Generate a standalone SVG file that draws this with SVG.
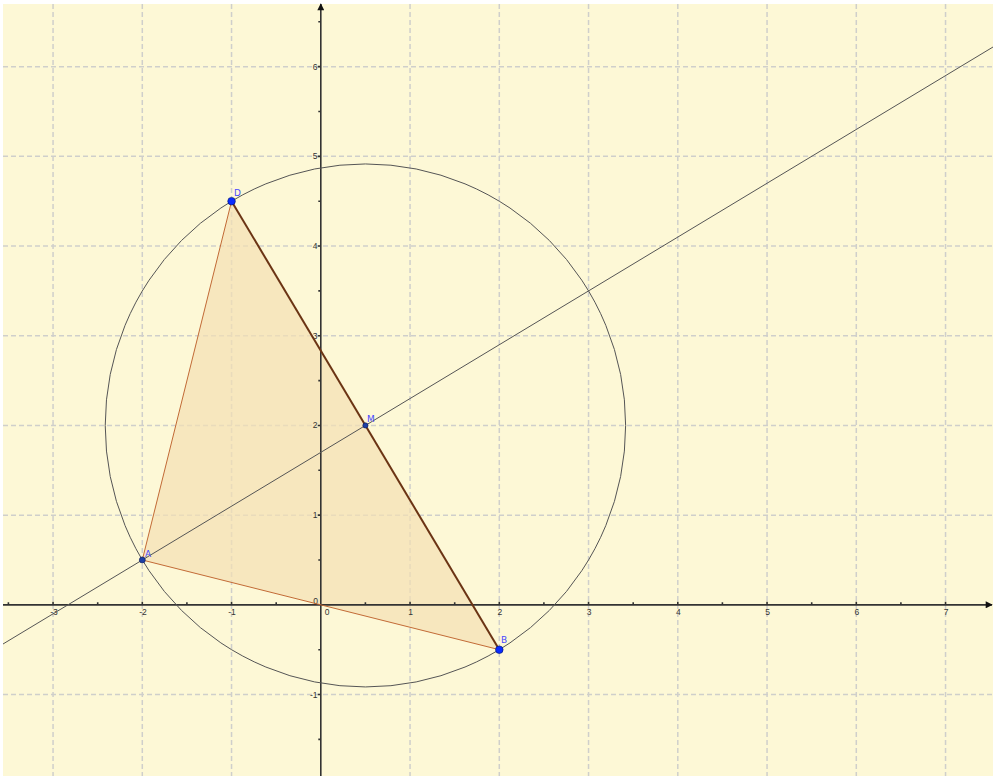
<svg xmlns="http://www.w3.org/2000/svg" width="993" height="776" viewBox="0 0 993 776">
<defs>
<style>
.grid{stroke:#cfcfcb;stroke-width:1.5;stroke-dasharray:5,3;fill:none}
.axis{stroke:#333333;stroke-width:1.6;fill:none}
.tick{stroke:#333333;stroke-width:1.6}
.lbl{font-family:"Liberation Sans",Arial,sans-serif;font-size:8.5px;fill:#333333}
.ptl{font-family:"DejaVu Sans","Liberation Sans",sans-serif;font-size:9px;fill:#4848ff}
.conic{stroke:#555555;stroke-width:1;fill:none}
.side{stroke:#c26a36;stroke-width:1;fill:none}
</style>
<marker id="arr" viewBox="0 0 10 10" refX="9" refY="5" markerWidth="10" markerHeight="7" markerUnits="userSpaceOnUse" orient="auto">
<path d="M0,0 L10,5 L0,10 Z" fill="#111111"/>
</marker>
</defs>
<rect x="0" y="0" width="993" height="776" fill="#ffffff"/>
<rect x="3" y="4" width="990" height="772" fill="#fdf8d6"/>
<g id="grid">
<line class="grid" x1="53.05" y1="4" x2="53.05" y2="776"/>
<line class="grid" x1="142.3" y1="4" x2="142.3" y2="776"/>
<line class="grid" x1="231.55" y1="4" x2="231.55" y2="776"/>
<line class="grid" x1="410.05" y1="4" x2="410.05" y2="776"/>
<line class="grid" x1="499.3" y1="4" x2="499.3" y2="776"/>
<line class="grid" x1="588.55" y1="4" x2="588.55" y2="776"/>
<line class="grid" x1="677.8" y1="4" x2="677.8" y2="776"/>
<line class="grid" x1="767.05" y1="4" x2="767.05" y2="776"/>
<line class="grid" x1="856.3" y1="4" x2="856.3" y2="776"/>
<line class="grid" x1="945.55" y1="4" x2="945.55" y2="776"/>
<line class="grid" x1="3" y1="694.55" x2="993" y2="694.55"/>
<line class="grid" x1="3" y1="515.15" x2="993" y2="515.15"/>
<line class="grid" x1="3" y1="425.45" x2="993" y2="425.45"/>
<line class="grid" x1="3" y1="335.75" x2="993" y2="335.75"/>
<line class="grid" x1="3" y1="246.05" x2="993" y2="246.05"/>
<line class="grid" x1="3" y1="156.35" x2="993" y2="156.35"/>
<line class="grid" x1="3" y1="66.65" x2="993" y2="66.65"/>
</g>
<g id="polygon">
<polygon points="142.3,560 231.55,201.2 499.3,649.7" fill="#f3dfb4" fill-opacity="0.7" stroke="none"/>
</g>
<g id="axes">
<line class="axis" x1="3" y1="604.85" x2="992" y2="604.85" marker-end="url(#arr)"/>
<line class="axis" x1="320.8" y1="776" x2="320.8" y2="4" marker-end="url(#arr)"/>
<path class="tick" d="M53.05,604.85v-3 M142.3,604.85v-3 M231.55,604.85v-3 M410.05,604.85v-3 M499.3,604.85v-3 M588.55,604.85v-3 M677.8,604.85v-3 M767.05,604.85v-3 M856.3,604.85v-3 M945.55,604.85v-3 M8.4,604.85v-2.5 M97.7,604.85v-2.5 M186.9,604.85v-2.5 M276.2,604.85v-2.5 M365.4,604.85v-2.5 M454.7,604.85v-2.5 M543.9,604.85v-2.5 M633.2,604.85v-2.5 M722.4,604.85v-2.5 M811.7,604.85v-2.5 M900.9,604.85v-2.5"/>
<path class="tick" d="M320.8,694.55h-3 M320.8,515.15h-3 M320.8,425.45h-3 M320.8,335.75h-3 M320.8,246.05h-3 M320.8,156.35h-3 M320.8,66.65h-3 M320.8,739.4h-2.5 M320.8,649.7h-2.5 M320.8,560h-2.5 M320.8,470.3h-2.5 M320.8,380.6h-2.5 M320.8,290.9h-2.5 M320.8,201.2h-2.5 M320.8,111.5h-2.5 M320.8,21.8h-2.5"/>
<g class="lbl" text-anchor="middle">
<text x="54" y="615">-3</text>
<text x="143" y="615">-2</text>
<text x="232" y="615">-1</text>
<text x="327" y="615">0</text>
<text x="410.5" y="615">1</text>
<text x="499.8" y="615">2</text>
<text x="589" y="615">3</text>
<text x="678.3" y="615">4</text>
<text x="767.5" y="615">5</text>
<text x="856.8" y="615">6</text>
<text x="946" y="615">7</text>
</g>
<g class="lbl" text-anchor="end">
<text x="317.5" y="697.5">-1</text>
<text x="318" y="604">0</text>
<text x="317.5" y="518">1</text>
<text x="317.5" y="428.3">2</text>
<text x="317.5" y="338.6">3</text>
<text x="317.5" y="248.9">4</text>
<text x="317.5" y="159.2">5</text>
<text x="317.5" y="69.5">6</text>
</g>
</g>
<g id="connectors">
<ellipse id="circle" class="conic" cx="365.43" cy="425.45" rx="260.2" ry="261.5"/>
<line id="lineAM" class="conic" x1="3" y1="644" x2="993" y2="47"/>
<line id="segAD" class="side" x1="142.3" y1="560" x2="231.55" y2="201.2"/>
<line id="segAB" class="side" x1="142.3" y1="560" x2="499.3" y2="649.7"/>
<line id="segDB" x1="231.55" y1="201.2" x2="499.3" y2="649.7" stroke="#6b3414" stroke-width="2"/>
</g>
<g id="pointA">
<circle cx="142.3" cy="560" r="3" fill="#1d3fa6" stroke="#0a1a55" stroke-width="0.6"/>
<text class="ptl" x="145" y="557">A</text>
</g>
<g id="pointD">
<circle cx="231.55" cy="201.2" r="3.8" fill="#0a2cff" stroke="#001066" stroke-width="0.6"/>
<text class="ptl" x="234" y="195.5">D</text>
</g>
<g id="pointB">
<circle cx="499.3" cy="649.7" r="3.8" fill="#0a2cff" stroke="#001066" stroke-width="0.6"/>
<text class="ptl" x="501" y="643" font-size="7">B</text>
</g>
<g id="pointM">
<circle cx="365.43" cy="425.45" r="2.6" fill="#1d3fa6" stroke="#0a1a55" stroke-width="0.6"/>
<text class="ptl" x="367" y="422">M</text>
</g>
</svg>
